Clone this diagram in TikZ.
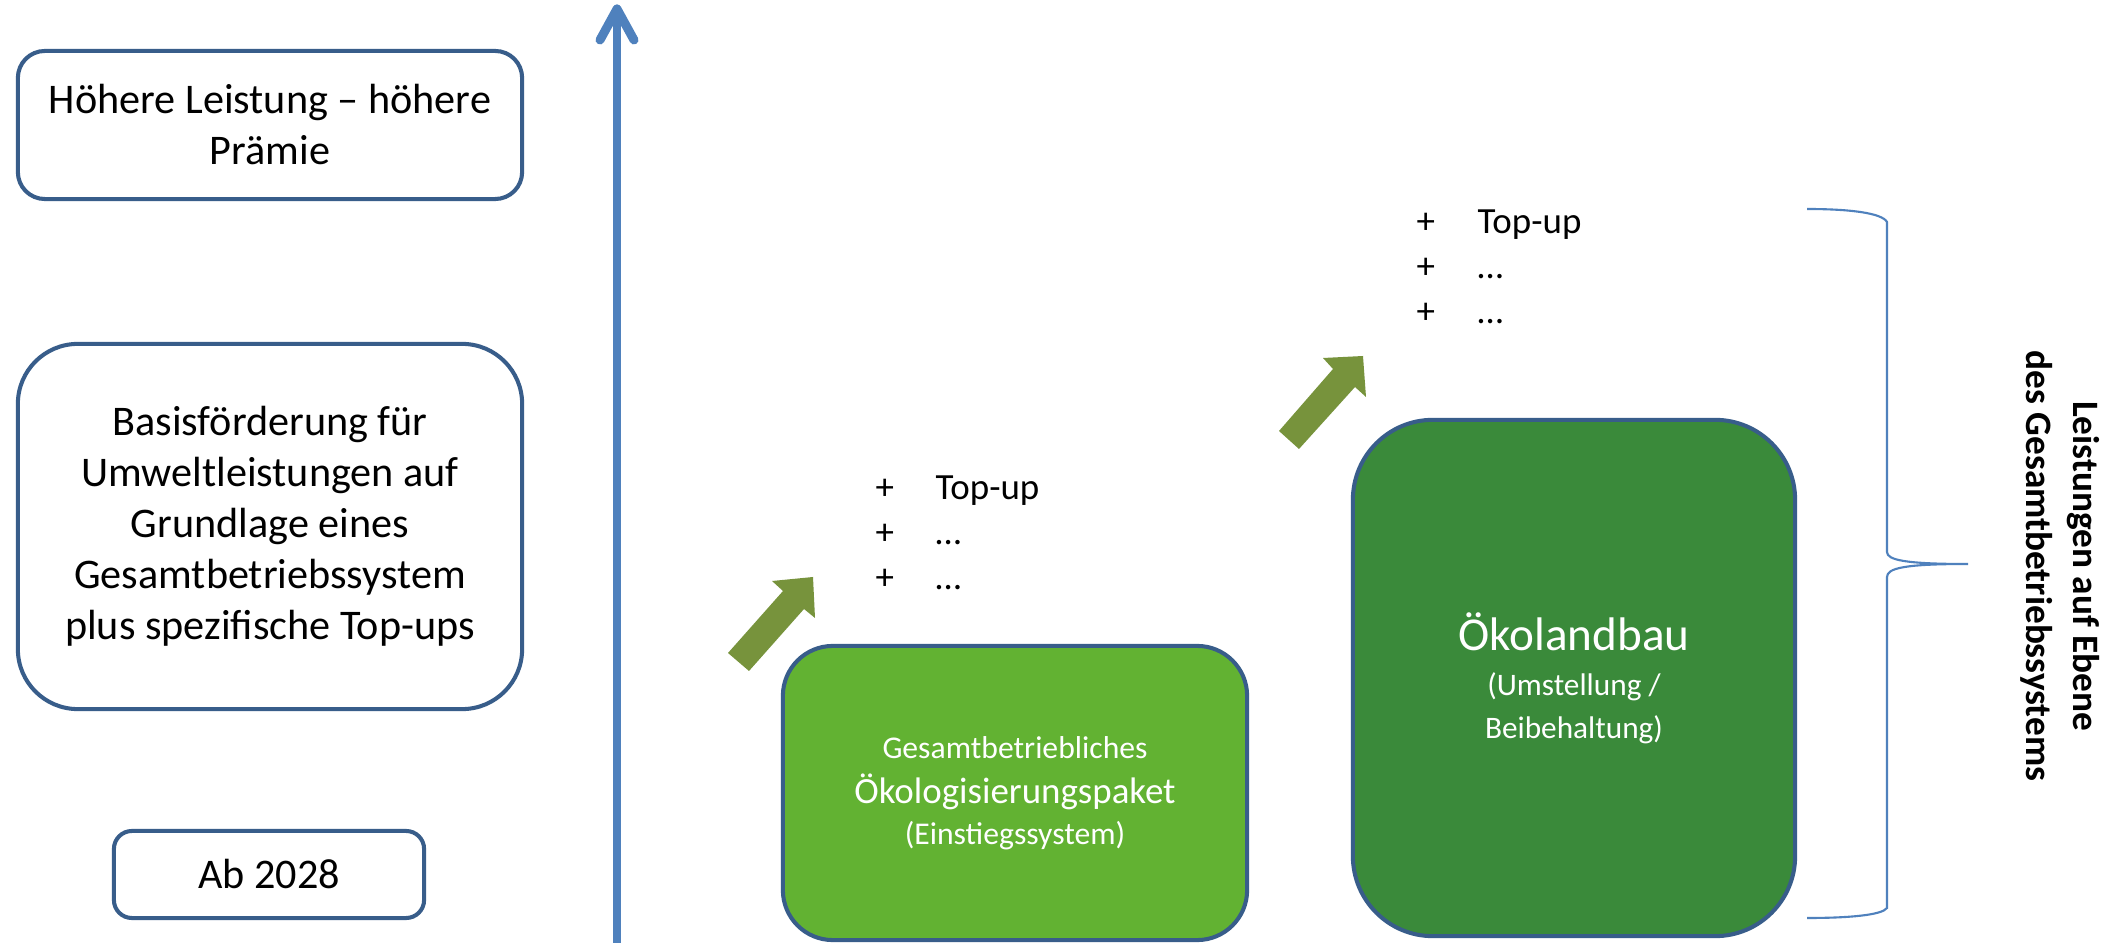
\documentclass[tikz,border=0pt]{standalone}
\usepackage{fontspec}
\setmainfont{Carlito}
\definecolor{bordercol}{HTML}{385D8A}
\definecolor{axisblue}{HTML}{4F81BD}
\definecolor{olivearrow}{HTML}{77933C}
\definecolor{lightgreen}{HTML}{62B232}
\definecolor{darkgreen}{HTML}{3A8A3A}
\tikzset{
  leftbox/.style={draw=bordercol, line width=1.15pt, fill=white, align=center, inner sep=0pt,
    font=\fontsize{12}{14.5}\selectfont},
  greenbox/.style={draw=bordercol, line width=1.15pt, align=center, inner sep=0pt, text=white},
  listnode/.style={anchor=west, align=left, inner sep=0pt, font=\fontsize{10.5}{12.8}\selectfont},
  upbox/.style={fill=olivearrow, draw=none},
  axisline/.style={draw=axisblue, line width=2.55pt, line cap=round, line join=round},
  bracecol/.style={draw=axisblue, line width=0.6pt},
}
\begin{document}
\begin{tikzpicture}[x=0.01cm, y=-0.01cm]
\useasboundingbox[fill=white] (0,0) rectangle (2123,943);

% left boxes
\node[leftbox, rounded corners=27*0.01cm, minimum width=5.04cm, minimum height=1.48cm] (hoeher) at (270,125)
  {Höhere Leistung – höhere\\Prämie};
\node[leftbox, rounded corners=60*0.01cm, minimum width=5.04cm, minimum height=3.65cm] (basis) at (270,526.5)
  {Basisförderung für\\Umweltleistungen auf\\Grundlage eines\\Gesamtbetriebssystem\\plus spezifische Top-ups};
\node[leftbox, rounded corners=18*0.01cm, minimum width=3.10cm, minimum height=0.87cm] (ab) at (269,874.5)
  {Ab 2028};

% vertical axis
\coordinate (axbot) at (617,950);
\coordinate (axtop) at (617,9);
\coordinate (axl) at (600,40);
\coordinate (axr) at (634,40);
\draw[axisline] (axbot) -- (axtop);
\draw[axisline] (axl) -- (axtop) -- (axr);

% green boxes
\node[greenbox, fill=lightgreen, rounded corners=50*0.01cm, minimum width=4.64cm, minimum height=2.94cm] (paket) at (1015,793)
  {{\fontsize{9}{11}\selectfont Gesamtbetriebliches}\\[1pt]
   {\fontsize{10.5}{12}\selectfont Ökologisierungspaket}\\[-0.5pt]
   {\fontsize{9}{11}\selectfont (Einstiegssystem)}};
\node[greenbox, fill=darkgreen, rounded corners=80*0.01cm, minimum width=4.42cm, minimum height=5.16cm] (oeko) at (1574,678)
  {{\fontsize{13.4}{14}\selectfont Ökolandbau}\\[1pt]
   {\fontsize{8.9}{10.8}\selectfont (Umstellung /}\\
   {\fontsize{8.9}{10.8}\selectfont Beibehaltung)}};

% lists
\node[listnode] (list1) at (875,533)
  {\makebox[0.6cm][l]{+}Top-up\\\makebox[0.6cm][l]{+}…\\\makebox[0.6cm][l]{+}…};
\node[listnode] (list2) at (1416,267)
  {\makebox[0.61cm][l]{+}Top-up\\\makebox[0.61cm][l]{+}…\\\makebox[0.61cm][l]{+}…};

% olive arrows
\fill[upbox] (728,653) -- (749,671) -- (804,609) -- (815,618) -- (813,577) -- (772,581) -- (783,591) -- cycle;
\fill[upbox] (1279,431) -- (1299,449) -- (1355,387) -- (1366,397) -- (1363,356) -- (1323,358) -- (1333,369) -- cycle;

% brace
\draw[bracecol] (1807,209) .. controls (1850,209) and (1882,213) .. (1887,222)
  -- (1887,552) .. controls (1887,560) and (1905,564) .. (1968,564)
  .. controls (1905,564) and (1887,568) .. (1887,577)
  -- (1887,908) .. controls (1882,915) and (1850,918) .. (1807,918);

% rotated label
\node[rotate=-90, align=center, inner sep=0pt, font=\bfseries\fontsize{10.6}{13.4}\selectfont] (label) at (2060,566)
  {Leistungen auf Ebene\\des Gesamtbetriebssystems};
\end{tikzpicture}
\end{document}
